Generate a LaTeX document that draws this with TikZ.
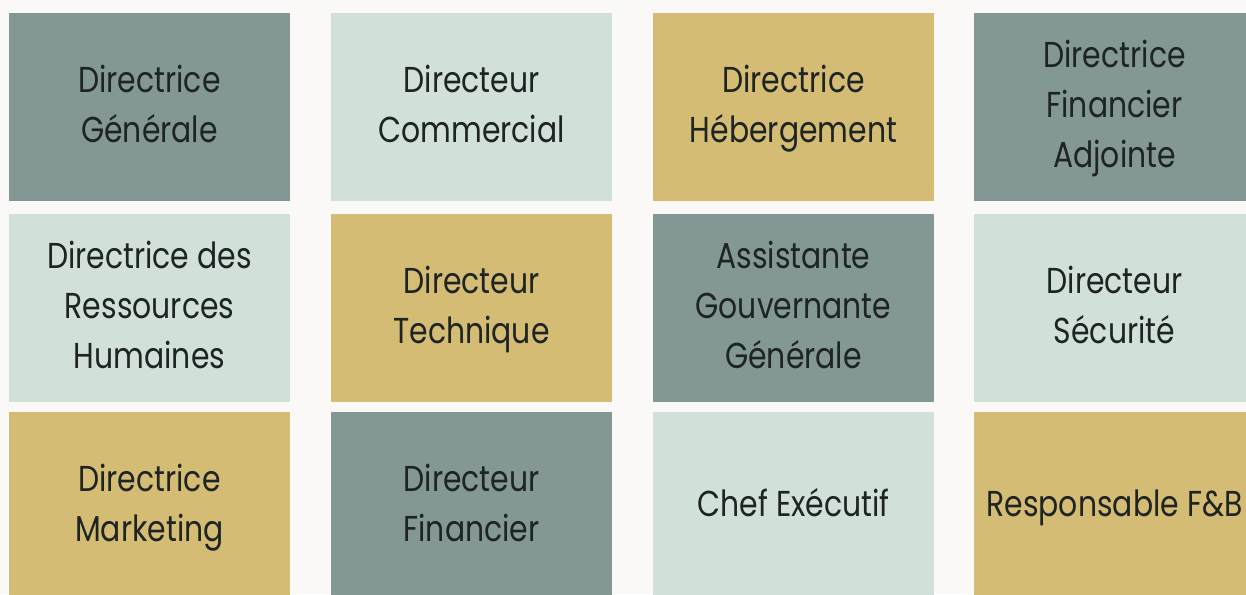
\documentclass[tikz,border=0pt]{standalone}
\usepackage{fontspec}
\setmainfont{Poppins}[FakeStretch=0.83]
\definecolor{pagebg}{HTML}{FAF9F8}
\definecolor{slate}{HTML}{839894}
\definecolor{mint}{HTML}{D1E0D8}
\definecolor{gold}{HTML}{D5BC74}
\definecolor{ink}{HTML}{1E2422}
% centred lines with struts, so every block sits the same way in its tile
\newcommand\lines[1]{\begin{tabular}{@{}c@{}}#1\end{tabular}}
\tikzset{
  tile/.style={rectangle, inner sep=0pt, minimum width=281pt, minimum height=188pt,
    text=ink, font={\fontsize{36}{50}\selectfont}},
  tileslate/.style={tile, fill=slate},
  tilemint/.style={tile, fill=mint},
  tilegold/.style={tile, fill=gold},
}
\begin{document}
\begin{tikzpicture}[x=1pt,y=1pt]
  \useasboundingbox (0,0) rectangle (1246,-594);
  \fill[pagebg] (0,0) rectangle (1246,-594);
  \begin{scope}
    \clip (0,0) rectangle (1246,-594);
    % row 1
    \node[tileslate] (dg)  at (149.5,-107)   {\lines{Directrice\\Générale}};
    \node[tilemint]  (dc)  at (471.5,-107)   {\lines{Directeur\\Commercial}};
    \node[tilegold]  (dh)  at (793.5,-107)   {\lines{Directrice\\Hébergement}};
    \node[tileslate] (dfa) at (1114.5,-107)  {\lines{Directrice\\Financier\\Adjointe}};
    % row 2
    \node[tilemint]  (drh) at (149.5,-308)   {\lines{Directrice des\\Ressources\\Humaines}};
    \node[tilegold]  (dt)  at (471.5,-308)   {\lines{Directeur\\Technique}};
    \node[tileslate] (agg) at (793.5,-308)   {\lines{Assistante\\Gouvernante\\Générale}};
    \node[tilemint]  (ds)  at (1114.5,-308)  {\lines{Directeur\\Sécurité}};
    % row 3
    \node[tilegold]  (dm)  at (149.5,-506)   {\lines{Directrice\\Marketing}};
    \node[tileslate] (df)  at (471.5,-506)   {\lines{Directeur\\Financier}};
    \node[tilemint]  (ce)  at (793.5,-506)   {\lines{Chef Exécutif}};
    \node[tilegold]  (rfb) at (1114.5,-506)  {\lines{Responsable F\&B}};
  \end{scope}
\end{tikzpicture}
\end{document}
